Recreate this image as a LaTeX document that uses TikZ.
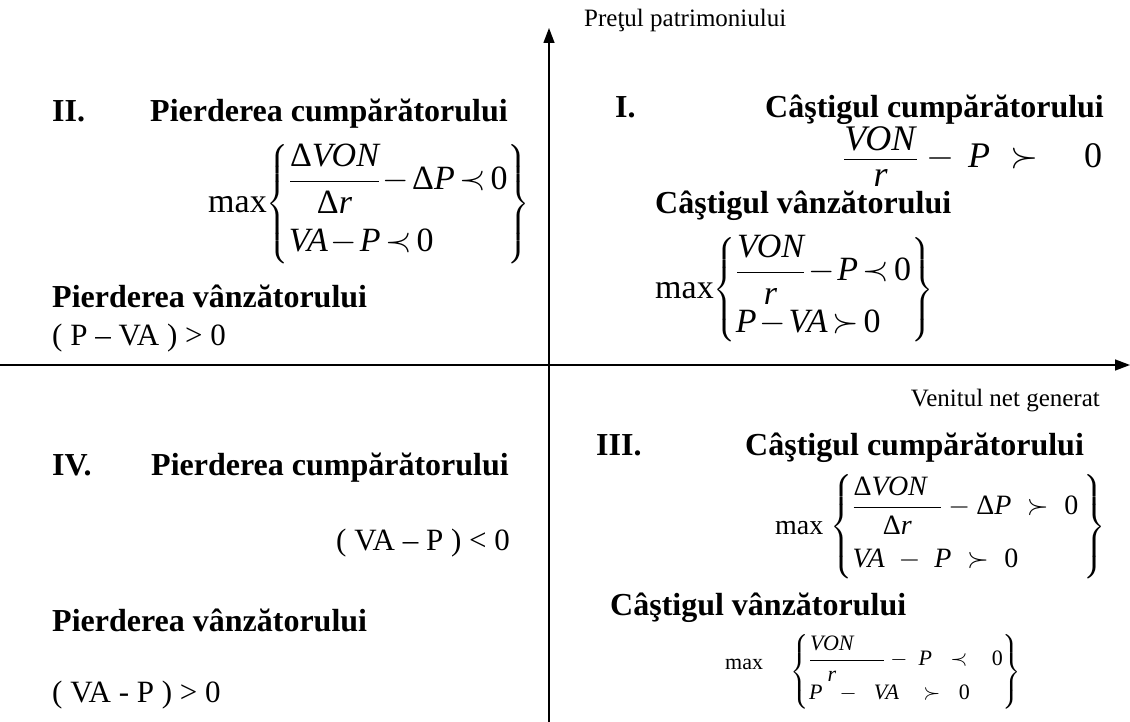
\RequirePackage{fix-cm}
\documentclass[tikz,border=0pt]{standalone}
\usepackage{fontspec}
\setmainfont{Liberation Serif}
\usepackage{amsmath}
\usetikzlibrary{arrows.meta, positioning}
\newcommand\mi[1]{\textit{#1}}
\newcommand\mx{\textrm{max}}
\newcommand\zr{\textrm{0}}
\newcommand\dl{\textrm{\symbol{"0394}}}
\newcommand\tight{\medmuskip=1.5mu\thickmuskip=2.5mu}
% fraction with the roomy spacing of the reference
\newcommand\fr[2]{\dfrac{#1\rule[-0.12em]{0pt}{0.12em}}{\rule{0pt}{0.85em}#2}}

\begin{document}
\begin{tikzpicture}[x=1pt, y=-1pt,
        axis/.style={line width=1.4pt, -{Triangle[length=15pt, width=11pt]}},
        lbl/.style={font=\fontsize{25}{29}\selectfont, inner sep=0pt},
        head/.style={font=\fontsize{32}{36}\selectfont\bfseries, anchor=base west, inner sep=0pt},
        txt/.style={font=\fontsize{31}{36}\selectfont, anchor=base west, inner sep=0pt},
        frm/.style={font=\fontsize{34}{40}\selectfont, anchor=west, inner sep=0pt},
        frmsm/.style={font=\fontsize{28}{32}\selectfont, anchor=west, inner sep=0pt}
    ]
    \useasboundingbox (0,0) rectangle (1130,722);
    % axes
    \coordinate (ybot) at (549,722);
    \coordinate (ytop) at (549,28);
    \coordinate (xleft) at (0,365);
    \coordinate (xright) at (1130,365);
    \draw[axis] (ybot) -- (ytop);
    \draw[axis] (xleft) -- (xright);
    \node[lbl, anchor=base west] (ylbl) at (584,27) {Pre\c{t}ul patrimoniului};
    \node[lbl, anchor=base east] (xlbl) at (1100,406) {Venitul net generat};

    % quadrant II
    \node[head] (rIIa) at (52,122) {II.};
    \node[head] (tIIa) at (150,122) {Pierderea cump\u{a}r\u{a}torului};
    \node[frm] (fIIa) at (208,204) {\tight\mx$\left\{\begin{array}{@{}l@{}}
        \fr{\dl\mi{VON}}{\dl\mi{r}}-\dl\mi{P}\prec\zr\\\noalign{\vskip 10pt}
        \mi{VA}-\mi{P}\prec\zr\end{array}\right\}$};
    \node[head] (tIIb) at (52,307) {Pierderea v\^anz\u{a}torului};
    \node[txt] (fIIb) at (52,345) {( P -- VA ) > 0};

    % quadrant I
    \node[head] (rIa) at (615,118) {I.};
    \node[head] (tIa) at (765,118) {C\^a\c{s}tigul cump\u{a}r\u{a}torului};
    \node[frm, font=\fontsize{36}{40}\selectfont, anchor=base west] (fIa) at (843,168)
        {$\dfrac{\raisebox{-7pt}{\mi{VON}}}{\raisebox{6pt}{\mi{r}}}-\,\mi{P}\;\succ\quad\zr$};
    \node[head] (tIb) at (655,214) {C\^a\c{s}tigul v\^anz\u{a}torului};
    \node[frm] (fIb) at (655,290) {\tight\mx$\left\{\begin{array}{@{}l@{}}
        \fr{\mi{VON}}{\mi{r}}-\mi{P}\prec\zr\\[8pt]
        \mi{P}-\mi{VA}\succ\zr\end{array}\right\}$};

    % quadrant IV
    \node[head] (rIVa) at (52,475) {IV.};
    \node[head] (tIVa) at (151,475) {Pierderea cump\u{a}r\u{a}torului};
    \node[txt] (fIVa) at (336,550) {( VA -- P ) < 0};
    \node[head] (tIVb) at (52,631) {Pierderea v\^anz\u{a}torului};
    \node[txt] (fIVb) at (52,702) {( VA - P ) > 0};

    % quadrant III
    \node[head] (rIIIa) at (596,455) {III.};
    \node[head] (tIIIa) at (745,455) {C\^a\c{s}tigul cump\u{a}r\u{a}torului};
    \node[frmsm] (fIIIa) at (775,527) {\mx\ $\left\{\begin{array}{@{}l@{}}
        \fr{\dl\mi{VON}\hspace{0.5em}}{\dl\mi{r}}-\dl\mi{P}\;\succ\;\zr\hspace{0.2em}\\\noalign{\vskip 10pt}
        \mi{VA}\;-\;\mi{P}\;\succ\;\zr\end{array}\right\}$};
    \node[head] (tIIIb) at (610,615) {C\^a\c{s}tigul v\^anz\u{a}torului};
    \node[frmsm, font=\fontsize{22}{26}\selectfont] (fIIIb) at (725,672) {\raisebox{8pt}{\mx}\quad\ $\left\{\begin{array}{@{}l@{}}
        \fr{\mi{VON}\hspace{1.4em}}{\mi{r}\hspace{1.4em}}-\;\mi{P}\;\;\prec\;\;\;\zr\\[4pt]
        \mi{P}\;\;-\;\;\mi{VA}\;\;\;\succ\;\;\zr\end{array}\right\}$};
\end{tikzpicture}
\end{document}
